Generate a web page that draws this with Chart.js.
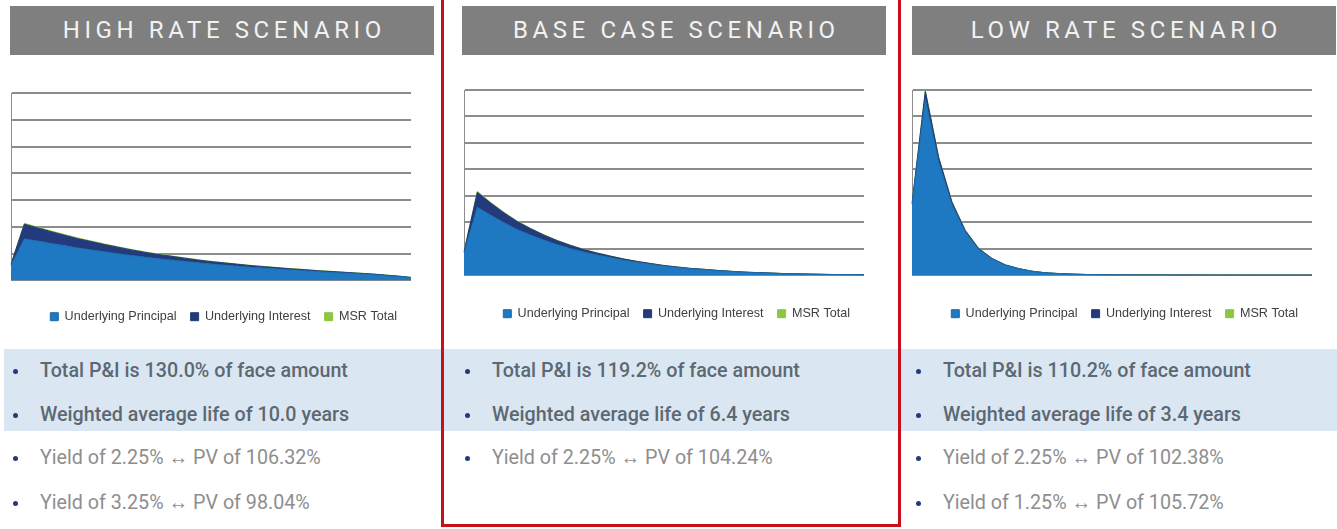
<!DOCTYPE html>
<html>
<head>
<meta charset="utf-8">
<script src="https://cdn.jsdelivr.net/npm/chart.js@4/dist/chart.umd.min.js"></script>
<style>
body{margin:0;width:1337px;height:529px;background:#fff;position:relative;overflow:hidden;font-family:Roboto,"Liberation Sans",sans-serif;}
.head{position:absolute;top:6px;height:49px;width:424px;background:#7f7f7f;color:#f2f2f2;font-size:24px;letter-spacing:4.6px;text-indent:4.6px;text-align:center;line-height:49px;}
.box{position:absolute;}
.band{position:absolute;left:4px;right:0;top:349px;height:82px;background:#dae7f2;}
.red{position:absolute;top:-5px;left:441px;width:454px;height:529px;border:3px solid #c8101a;border-top:none;}
.line{position:absolute;font-size:19.7px;white-space:nowrap;}
.line.b{color:#5d6873;font-weight:500;}
.line.l{color:#8e8e8e;}
.dot{position:absolute;width:5px;height:5px;border-radius:50%;background:#233a7c;}
</style>
</head>
<body>
<div class="band"></div>
<div class="red"></div>
<div class="head" style="left:10px">HIGH RATE SCENARIO</div>
<div class="head" style="left:462px">BASE CASE SCENARIO</div>
<div class="head" style="left:912px">LOW RATE SCENARIO</div>
<div class="box" style="left:5px;top:88px;width:435px;height:245px"><canvas id="c1"></canvas></div>
<div class="box" style="left:458px;top:85px;width:435px;height:245px"><canvas id="c2"></canvas></div>
<div class="box" style="left:906px;top:85px;width:431px;height:245px"><canvas id="c3"></canvas></div>
<div id="notes"></div>
<script>
// anni 0..30
const years = [0,1,2,3,4,5,6,7,8,9,10,11,12,13,14,15,16,17,18,19,20,21,22,23,24,25,26,27,28,29,30];
const seriesNames = ["Underlying Principal","Underlying Interest","MSR Total"];

const highPrincipal = [0.57,1.55,1.47,1.38,1.30,1.21,1.14,1.07,1.00,0.93,0.87,0.81,0.76,0.71,0.66,0.61,0.57,0.53,0.49,0.46,0.425,0.39,0.365,0.33,0.30,0.275,0.25,0.22,0.185,0.15,0.10];
const highInterest = [0.03,0.55,0.49,0.44,0.39,0.35,0.31,0.27,0.24,0.21,0.18,0.16,0.14,0.12,0.10,0.09,0.08,0.07,0.06,0.05,0.045,0.04,0.035,0.03,0.03,0.025,0.02,0.02,0.015,0.01,0.01];
const highMsr = [0.01,0.03,0.03,0.028,0.026,0.025,0.024,0.022,0.021,0.02,0.019,0.018,0.017,0.016,0.015,0.014,0.013,0.012,0.011,0.011,0.01,0.01,0.009,0.009,0.008,0.008,0.007,0.007,0.006,0.006,0.005];

const basePrincipal = [0.85,2.57,2.27,1.99,1.73,1.52,1.33,1.16,1.01,0.88,0.77,0.67,0.57,0.49,0.42,0.35,0.30,0.25,0.22,0.18,0.15,0.12,0.10,0.085,0.065,0.055,0.046,0.037,0.028,0.027,0.018];
const baseInterest = [0.04,0.57,0.46,0.37,0.30,0.24,0.19,0.15,0.12,0.09,0.07,0.055,0.045,0.035,0.028,0.022,0.017,0.013,0.01,0.008,0.006,0.005,0.005,0.004,0.004,0.003,0.003,0.003,0.002,0.002,0.002];
const baseMsr = [0.01,0.03,0.025,0.02,0.018,0.015,0.013,0.011,0.01,0.009,0.008,0.007,0.006,0.005,0.004,0.004,0.003,0.003,0.002,0.002,0.002,0.002,0.002,0.001,0.001,0.001,0.001,0.001,0.001,0.001,0.001];

const lowPrincipal = [2.69,6.65,4.27,2.66,1.63,0.98,0.62,0.385,0.25,0.154,0.097,0.068,0.048,0.034,0.024,0.019,0.016,0.014,0.012,0.011,0.010,0.009,0.008,0.007,0.007,0.006,0.006,0.005,0.005,0.004,0.004];
const lowInterest = [0.02,0.30,0.18,0.10,0.06,0.035,0.02,0.012,0.008,0.005,0.003,0.002,0.002,0.001,0.001,0.001,0.001,0.001,0.001,0.001,0.001,0.001,0.001,0.001,0.001,0.001,0.001,0.001,0.001,0.001,0.001];
const lowMsr = [0.01,0.03,0.02,0.015,0.01,0.006,0.004,0.003,0.002,0.001,0.001,0.001,0.001,0.001,0.001,0.001,0.001,0.001,0.001,0.001,0.001,0.001,0.001,0.001,0.001,0.001,0.001,0.001,0.001,0.001,0.001];

const highNotes = ["Total P&I is 130.0% of face amount","Weighted average life of 10.0 years","Yield of 2.25% \u2194 PV of 106.32%","Yield of 3.25% \u2194 PV of 98.04%"];
const baseNotes = ["Total P&I is 119.2% of face amount","Weighted average life of 6.4 years","Yield of 2.25% \u2194 PV of 104.24%"];
const lowNotes = ["Total P&I is 110.2% of face amount","Weighted average life of 3.4 years","Yield of 2.25% \u2194  PV of 102.38%","Yield of 1.25% \u2194  PV of 105.72%"];

const COL_P = "#1e78c2", COL_I = "#233a7c", COL_M = "#8dc63f";

function creaGrafico(id, p, i, m, padR, gap){
	const ctx = document.getElementById(id).getContext('2d');
	return new Chart(ctx, {
		type: 'line',
		data: {
			labels: years,
			datasets: [
				{label: seriesNames[0], data: p, backgroundColor: COL_P, borderColor: "#1a6aab", borderWidth: 1, fill: 'origin', pointRadius: 0, tension: 0},
				{label: seriesNames[1], data: i, backgroundColor: COL_I, borderColor: COL_I, borderWidth: 1, fill: '-1', pointRadius: 0, tension: 0},
				{label: seriesNames[2], data: m, backgroundColor: COL_M, borderColor: COL_M, borderWidth: 1, fill: '-1', pointRadius: 0, tension: 0}
			]
		},
		options: {
			responsive: true,
			maintainAspectRatio: false,
			animation: false,
			layout: {padding: {left: 6, right: padR, top: 5, bottom: 0}},
			scales: {
				x: {offset: false, grid: {display: false}, border: {display: false}, ticks: {display: false},
					afterFit: (s)=>{ s.height = gap; }},
				y: {stacked: true, min: 0, max: 7, ticks: {display: false, stepSize: 1},
					grid: {color: "#8c8c8c", lineWidth: 2, drawTicks: false},
					border: {display: true, color: "#8c8c8c", width: 1}}
			},
			plugins: {
				tooltip: {enabled: false},
				legend: {position: 'bottom', align: 'end', labels: {boxWidth: 8, boxHeight: 8, padding: 14, color: "#404040",
					font: {family: "'Liberation Sans', Arial, sans-serif", size: 12.6}}}
			}
		}
	});
}

creaGrafico('c1', highPrincipal, highInterest, highMsr, 29, 16);
creaGrafico('c2', basePrincipal, baseInterest, baseMsr, 29, 18);
creaGrafico('c3', lowPrincipal, lowInterest, lowMsr, 25, 18);

// note sotto i grafici
const notes = document.getElementById('notes');
const rowsY = [371, 415, 458, 503];
function scriviNote(list, dotX, textX){
	list.forEach((t, k)=>{
		const d = document.createElement('div');
		d.className = 'dot';
		d.style.left = (dotX - 2) + 'px';
		d.style.top = (rowsY[k] - 2) + 'px';
		notes.appendChild(d);
		const s = document.createElement('div');
		s.className = 'line ' + (k < 2 ? 'b' : 'l');
		s.textContent = t;
		s.style.left = textX + 'px';
		s.style.top = (rowsY[k] - 12) + 'px';
		notes.appendChild(s);
	});
}
scriviNote(highNotes, 15, 40);
scriviNote(baseNotes, 467, 492);
scriviNote(lowNotes, 918, 943);
</script>
</body>
</html>
